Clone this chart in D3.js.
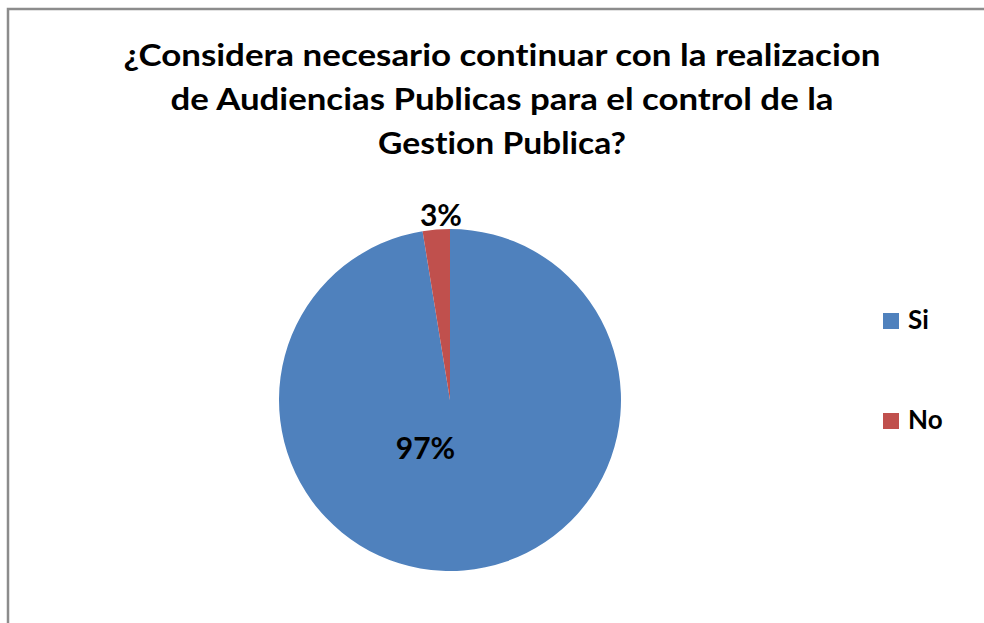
<!DOCTYPE html>
<html>
 <head>
  <meta charset="utf-8">
  <title>Audiencias Publicas</title>
  <style>
  body { margin: 0; background: #fff; }
  svg { display: block; }
  text { font-family: Lato, "Open Sans", sans-serif; font-weight: 700; fill: #000;
         font-variant-ligatures: none; font-feature-settings: "liga" 0, "clig" 0; }
  </style>
  <script src="https://cdnjs.cloudflare.com/ajax/libs/d3/7.8.3/d3.min.js"></script>
 </head>
 <body>
  <script>
   // data
   const categories = ["Si", "No"];
   const values = [38, 1];
   const colors = ["#4F81BD", "#C0504D"];
   const titleLines = [
    "¿Considera necesario continuar con la realizacion",
    "de Audiencias Publicas para el control de la",
    "Gestion Publica?"
   ];
   const titleWidths = [757, 663, 248];

   const w = 984;
   const h = 623;
   const cx = 450, cy = 400, R = 171;

   const svg = d3.select("body")
                 .append("svg")
                 .attr("width", w)
                 .attr("height", h);

   // chart area frame (only top and left edges are visible)
   svg.append("rect")
      .attr("x", 8)
      .attr("y", 9)
      .attr("width", 1100)
      .attr("height", 800)
      .attr("fill", "none")
      .attr("stroke", "#8c8c8c")
      .attr("stroke-width", 2.5);

   svg.append("g")
      .selectAll("text")
      .data(titleLines)
      .enter()
      .append("text")
      .attr("x", 502)
      .attr("y", (d, i) => 66 + 44 * i)
      .attr("text-anchor", "middle")
      .attr("font-size", 30)
      .attr("textLength", (d, i) => titleWidths[i])
      .attr("lengthAdjust", "spacingAndGlyphs")
      .text(d => d);

   const total = d3.sum(values);
   const rows = categories.map((c, i) => ({name: c, value: values[i], color: colors[i]}));
   const pie = d3.pie().sort(null).value(d => d.value);
   const arcs = pie(rows);
   const arc = d3.arc().innerRadius(0).outerRadius(R);

   const g = svg.append("g")
                .attr("transform", "translate(" + cx + "," + cy + ")");
   g.selectAll("path")
    .data(arcs)
    .enter()
    .append("path")
    .attr("d", arc)
    .attr("fill", d => d.data.color);

   const pct = d => Math.round(d.data.value / total * 100) + "%";
   const inner = d3.arc().innerRadius(0).outerRadius(R * 0.36);
   const outer = d3.arc().innerRadius(R + 16).outerRadius(R + 16);
   g.selectAll("text")
    .data(arcs)
    .enter()
    .append("text")
    .attr("transform", d => {
     let p;
     if (d.data.value / total > 0.5) {
      p = inner.centroid(d);
      p = [p[0] - 27, p[1] + 16];
     } else {
      p = outer.centroid(d);
      p = [p[0] + 6, p[1]];
     }
     return "translate(" + p + ")";
    })
    .attr("text-anchor", "middle")
    .attr("dominant-baseline", "central")
    .attr("font-size", 30)
    .text(pct);

   const legend = svg.append("g")
                     .attr("id", "legend");
   legend.selectAll("rect")
         .data(rows)
         .enter()
         .append("rect")
         .attr("x", 883)
         .attr("y", (d, i) => 313 + 100 * i)
         .attr("width", 16)
         .attr("height", 16)
         .attr("fill", d => d.color);
   legend.selectAll("text")
         .data(rows)
         .enter()
         .append("text")
         .attr("x", 908)
         .attr("y", (d, i) => 329 + 100 * i)
         .attr("font-size", 26)
         .text(d => d.name);
  </script>
 </body>
</html>
